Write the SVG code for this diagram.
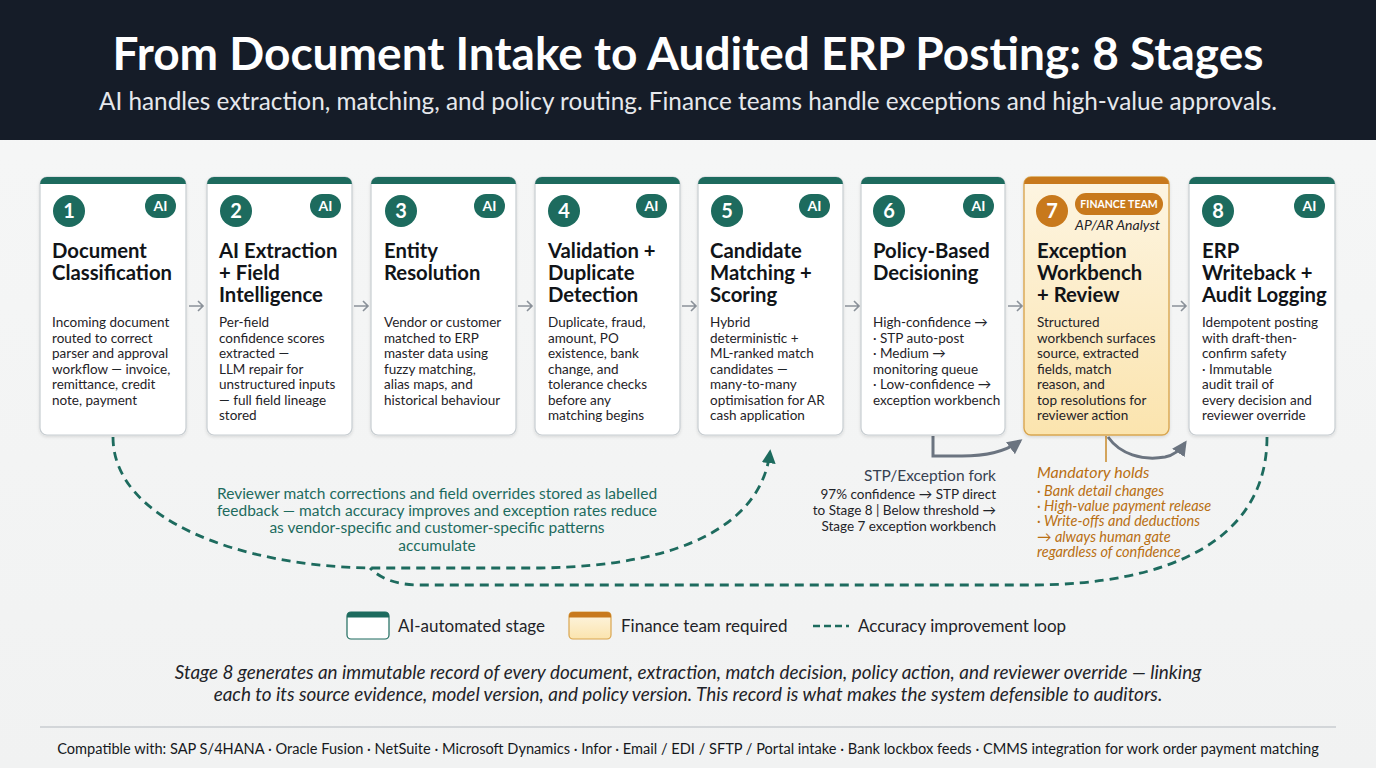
<svg xmlns="http://www.w3.org/2000/svg" width="1376" height="768" viewBox="0 0 1376 768">
<defs>
<style>
.card{fill:#ffffff;stroke:#c7cdd1;stroke-width:1.2}
.cardF{fill:url(#gF);stroke:#d9a650;stroke-width:1.4}
.barT{fill:#1d6b5e}
.barF{fill:#c8791c}
.numc{fill:#1d6b5e}
.numF{fill:#c8791c}
.num{font-family:Lato,"Noto Sans",sans-serif;font-weight:700;font-size:20px;fill:#ffffff;text-anchor:middle}
.ai{font-family:Lato,"Noto Sans",sans-serif;font-weight:700;font-size:14px;fill:#ffffff;text-anchor:middle}
.ttl{font-family:Lato,"Noto Sans",sans-serif;font-weight:700;font-size:20.3px;fill:#111418}
.body{font-family:Lato,"Noto Sans",sans-serif;font-size:13.5px;fill:#1f2328}
.step{fill:none;stroke:#8a9199;stroke-width:1.6}
.loop{fill:none;stroke:#1d6b5e;stroke-width:2.8;stroke-dasharray:9 6}
.gcon{fill:none;stroke:#6b7480;stroke-width:3}
.note{font-family:Lato,"Noto Sans",sans-serif;font-size:15.5px;fill:#1d6b5e;text-anchor:middle}
.fork{font-family:Lato,"Noto Sans",sans-serif;font-size:13.5px;fill:#1f2328;text-anchor:end}
.hold{font-family:Lato,"Noto Sans",sans-serif;font-style:italic;font-size:14.5px;fill:#b96f12}
.leg{font-family:Lato,"Noto Sans",sans-serif;font-size:17px;fill:#1f2328}
</style>
<linearGradient id="gF" x1="0" y1="0" x2="0" y2="1">
<stop offset="0" stop-color="#fdf5e2"/>
<stop offset="1" stop-color="#fbe4ae"/>
</linearGradient>
<linearGradient id="bg" x1="0" y1="0" x2="0" y2="1">
<stop offset="0" stop-color="#f6f7f7"/>
<stop offset="1" stop-color="#f1f2f2"/>
</linearGradient>
<marker id="mT" viewBox="0 0 10 10" refX="8" refY="5" markerWidth="5" markerHeight="5" orient="auto" markerUnits="strokeWidth">
<path d="M0,0 L10,5 L0,10 z" fill="#1d6b5e"/>
</marker>
<marker id="mG" viewBox="0 0 10 10" refX="8" refY="5" markerWidth="5" markerHeight="5" orient="auto" markerUnits="strokeWidth">
<path d="M0,0 L10,5 L0,10 z" fill="#6b7480"/>
</marker>
<filter id="sh" x="-10%" y="-10%" width="120%" height="120%">
<feDropShadow dx="0" dy="1.5" stdDeviation="1.5" flood-color="#000" flood-opacity="0.12"/>
</filter>
</defs>

<rect x="0" y="0" width="1376" height="768" fill="url(#bg)"/>
<g id="header">
<rect x="0" y="0" width="1376" height="140" fill="#151c28"/>
<text x="688" y="70" text-anchor="middle" font-family="Lato,'Noto Sans',sans-serif" font-weight="700" font-size="46" fill="#ffffff">From Document Intake to Audited ERP Posting: 8 Stages</text>
<text x="688" y="110" text-anchor="middle" font-family="Lato,'Noto Sans',sans-serif" font-size="24.3" fill="#e6e8ec">AI handles extraction, matching, and policy routing. Finance teams handle exceptions and high-value approvals.</text>
</g>

<g id="connectors">
<path class="step" d="M189 306 H203 M198 301 L203 306 L198 311"/>
<path class="step" d="M354 306 H368 M363 301 L368 306 L363 311"/>
<path class="step" d="M518 306 H532 M527 301 L532 306 L527 311"/>
<path class="step" d="M682 306 H696 M691 301 L696 306 L691 311"/>
<path class="step" d="M845 306 H859 M854 301 L859 306 L854 311"/>
<path class="step" d="M1008 306 H1022 M1017 301 L1022 306 L1017 311"/>
<path class="step" d="M1172 306 H1186 M1181 301 L1186 306 L1181 311"/>
<path class="gcon" d="M933 436 V456 H962 C990 456 1008 450 1020 441" marker-end="url(#mG)"/>
<path class="gcon" d="M1108 437 C1120 454 1142 461 1165 457 C1175 455 1181 449 1185 443" marker-end="url(#mG)"/>
<line x1="1106" y1="436" x2="1106" y2="462" stroke="#c98a2a" stroke-width="1.5"/>
<path class="loop" d="M113 437 C113 520 240 566 370 568 L540 568 C690 566 762 520 770 452" marker-end="url(#mT)"/>
<path class="loop" d="M1267 437 C1267 540 1170 585 1030 585 L420 585 C395 585 380 578 370 568"/>
</g>

<g id="stage1">
<rect class="card" x="40" y="177" width="146" height="258" rx="7" filter="url(#sh)"/>
<path class="barT" d="M40 184 a7 7 0 0 1 7 -7 h132 a7 7 0 0 1 7 7 v0 z"/>
<circle class="numc" cx="69" cy="211" r="16"/><text class="num" x="69" y="218">1</text>
<rect class="numc" x="145" y="194" width="31" height="24" rx="12"/><text class="ai" x="160.5" y="211">AI</text>
<text class="ttl" x="52" y="258">Document</text><text class="ttl" x="52" y="280">Classification</text>
<text class="body" x="52" y="327">Incoming document</text><text class="body" x="52" y="343">routed to correct</text><text class="body" x="52" y="358">parser and approval</text><text class="body" x="52" y="374">workflow — invoice,</text><text class="body" x="52" y="389">remittance, credit</text><text class="body" x="52" y="405">note, payment</text>
</g>

<g id="stage2">
<rect class="card" x="207" y="177" width="145" height="258" rx="7" filter="url(#sh)"/>
<path class="barT" d="M207 184 a7 7 0 0 1 7 -7 h131 a7 7 0 0 1 7 7 v0 z"/>
<circle class="numc" cx="236" cy="211" r="16"/><text class="num" x="236" y="218">2</text>
<rect class="numc" x="310" y="194" width="31" height="24" rx="12"/><text class="ai" x="325.5" y="211">AI</text>
<text class="ttl" x="219" y="258">AI Extraction</text><text class="ttl" x="219" y="280">+ Field</text><text class="ttl" x="219" y="302">Intelligence</text>
<text class="body" x="219" y="327">Per-field</text><text class="body" x="219" y="343">confidence scores</text><text class="body" x="219" y="358">extracted —</text><text class="body" x="219" y="374">LLM repair for</text><text class="body" x="219" y="389">unstructured inputs</text><text class="body" x="219" y="405">— full field lineage</text><text class="body" x="219" y="420">stored</text>
</g>

<g id="stage3">
<rect class="card" x="371" y="177" width="145" height="258" rx="7" filter="url(#sh)"/>
<path class="barT" d="M371 184 a7 7 0 0 1 7 -7 h131 a7 7 0 0 1 7 7 v0 z"/>
<circle class="numc" cx="401" cy="211" r="16"/><text class="num" x="401" y="218">3</text>
<rect class="numc" x="474" y="194" width="31" height="24" rx="12"/><text class="ai" x="489.5" y="211">AI</text>
<text class="ttl" x="384" y="258">Entity</text><text class="ttl" x="384" y="280">Resolution</text>
<text class="body" x="384" y="327">Vendor or customer</text><text class="body" x="384" y="343">matched to ERP</text><text class="body" x="384" y="358">master data using</text><text class="body" x="384" y="374">fuzzy matching,</text><text class="body" x="384" y="389">alias maps, and</text><text class="body" x="384" y="405">historical behaviour</text>
</g>

<g id="stage4">
<rect class="card" x="535" y="177" width="145" height="258" rx="7" filter="url(#sh)"/>
<path class="barT" d="M535 184 a7 7 0 0 1 7 -7 h131 a7 7 0 0 1 7 7 v0 z"/>
<circle class="numc" cx="564" cy="211" r="16"/><text class="num" x="564" y="218">4</text>
<rect class="numc" x="636" y="194" width="31" height="24" rx="12"/><text class="ai" x="651.5" y="211">AI</text>
<text class="ttl" x="548" y="258">Validation +</text><text class="ttl" x="548" y="280">Duplicate</text><text class="ttl" x="548" y="302">Detection</text>
<text class="body" x="548" y="327">Duplicate, fraud,</text><text class="body" x="548" y="343">amount, PO</text><text class="body" x="548" y="358">existence, bank</text><text class="body" x="548" y="374">change, and</text><text class="body" x="548" y="389">tolerance checks</text><text class="body" x="548" y="405">before any</text><text class="body" x="548" y="420">matching begins</text>
</g>

<g id="stage5">
<rect class="card" x="698" y="177" width="145" height="258" rx="7" filter="url(#sh)"/>
<path class="barT" d="M698 184 a7 7 0 0 1 7 -7 h131 a7 7 0 0 1 7 7 v0 z"/>
<circle class="numc" cx="727" cy="211" r="16"/><text class="num" x="727" y="218">5</text>
<rect class="numc" x="799" y="194" width="31" height="24" rx="12"/><text class="ai" x="814.5" y="211">AI</text>
<text class="ttl" x="710" y="258">Candidate</text><text class="ttl" x="710" y="280">Matching +</text><text class="ttl" x="710" y="302">Scoring</text>
<text class="body" x="710" y="327">Hybrid</text><text class="body" x="710" y="343">deterministic +</text><text class="body" x="710" y="358">ML-ranked match</text><text class="body" x="710" y="374">candidates —</text><text class="body" x="710" y="389">many-to-many</text><text class="body" x="710" y="405">optimisation for AR</text><text class="body" x="710" y="420">cash application</text>
</g>

<g id="stage6">
<rect class="card" x="861" y="177" width="144" height="258" rx="7" filter="url(#sh)"/>
<path class="barT" d="M861 184 a7 7 0 0 1 7 -7 h130 a7 7 0 0 1 7 7 v0 z"/>
<circle class="numc" cx="889" cy="211" r="16"/><text class="num" x="889" y="218">6</text>
<rect class="numc" x="963" y="194" width="31" height="24" rx="12"/><text class="ai" x="978.5" y="211">AI</text>
<text class="ttl" x="873" y="258">Policy-Based</text><text class="ttl" x="873" y="280">Decisioning</text>
<text class="body" x="873" y="327">High-confidence →</text><text class="body" x="873" y="343">· STP auto-post</text><text class="body" x="873" y="358">· Medium →</text><text class="body" x="873" y="374">monitoring queue</text><text class="body" x="873" y="389">· Low-confidence →</text><text class="body" x="873" y="405">exception workbench</text>
</g>

<g id="stage7">
<rect class="cardF" x="1024" y="177" width="145" height="258" rx="7" filter="url(#sh)"/>
<path class="barF" d="M1024 184 a7 7 0 0 1 7 -7 h131 a7 7 0 0 1 7 7 v0 z"/>
<circle class="numF" cx="1052" cy="211" r="16"/><text class="num" x="1052" y="218">7</text>
<rect class="numF" x="1075" y="193" width="88" height="22" rx="11"/><text x="1119" y="208" text-anchor="middle" font-family="Lato,'Noto Sans',sans-serif" font-weight="700" font-size="10.5" fill="#ffffff">FINANCE TEAM</text>
<text x="1160" y="230" text-anchor="end" font-family="Lato,'Noto Sans',sans-serif" font-style="italic" font-size="14" fill="#1f2328">AP/AR Analyst</text>
<text class="ttl" x="1037" y="258">Exception</text><text class="ttl" x="1037" y="280">Workbench</text><text class="ttl" x="1037" y="302">+ Review</text>
<text class="body" x="1037" y="327">Structured</text><text class="body" x="1037" y="343">workbench surfaces</text><text class="body" x="1037" y="358">source, extracted</text><text class="body" x="1037" y="374">fields, match</text><text class="body" x="1037" y="389">reason, and</text><text class="body" x="1037" y="405">top resolutions for</text><text class="body" x="1037" y="420">reviewer action</text>
</g>

<g id="stage8">
<rect class="card" x="1189" y="177" width="146" height="258" rx="7" filter="url(#sh)"/>
<path class="barT" d="M1189 184 a7 7 0 0 1 7 -7 h132 a7 7 0 0 1 7 7 v0 z"/>
<circle class="numc" cx="1218" cy="211" r="16"/><text class="num" x="1218" y="218">8</text>
<rect class="numc" x="1294" y="194" width="31" height="24" rx="12"/><text class="ai" x="1309.5" y="211">AI</text>
<text class="ttl" x="1202" y="258">ERP</text><text class="ttl" x="1202" y="280">Writeback +</text><text class="ttl" x="1202" y="302">Audit Logging</text>
<text class="body" x="1202" y="327">Idempotent posting</text><text class="body" x="1202" y="343">with draft-then-</text><text class="body" x="1202" y="358">confirm safety</text><text class="body" x="1202" y="374">· Immutable</text><text class="body" x="1202" y="389">audit trail of</text><text class="body" x="1202" y="405">every decision and</text><text class="body" x="1202" y="420">reviewer override</text>
</g>

<g id="loop-note">
<text class="note" x="437" y="499">Reviewer match corrections and field overrides stored as labelled</text>
<text class="note" x="437" y="516">feedback — match accuracy improves and exception rates reduce</text>
<text class="note" x="437" y="533">as vendor-specific and customer-specific patterns</text>
<text class="note" x="437" y="551">accumulate</text>
</g>

<g id="fork-note">
<text x="996" y="481" text-anchor="end" font-family="Lato,'Noto Sans',sans-serif" font-size="15.5" fill="#374151">STP/Exception fork</text>
<text class="fork" x="996" y="499">97% confidence → STP direct</text>
<text class="fork" x="996" y="515">to Stage 8 | Below threshold →</text>
<text class="fork" x="996" y="531">Stage 7 exception workbench</text>
</g>

<g id="holds-note">
<text x="1037" y="478" font-family="Lato,'Noto Sans',sans-serif" font-style="italic" font-size="16" fill="#b96f12">Mandatory holds</text>
<text class="hold" x="1037" y="496">· Bank detail changes</text>
<text class="hold" x="1037" y="511">· High-value payment release</text>
<text class="hold" x="1037" y="526">· Write-offs and deductions</text>
<text class="hold" x="1037" y="542">→ always human gate</text>
<text class="hold" x="1037" y="557">regardless of confidence</text>
</g>

<g id="legend">
<rect x="347" y="612" width="42" height="27" rx="4" fill="#ffffff" stroke="#1d6b5e" stroke-width="1.2"/>
<path d="M347 616 a4 4 0 0 1 4 -4 h34 a4 4 0 0 1 4 4 v1.5 h-42 z" fill="#1d6b5e"/>
<text class="leg" x="398" y="632">AI-automated stage</text>
<rect x="569" y="612" width="42" height="27" rx="4" fill="url(#gF)" stroke="#d9a650" stroke-width="1.2"/>
<path d="M569 616 a4 4 0 0 1 4 -4 h34 a4 4 0 0 1 4 4 v1.5 h-42 z" fill="#c8791c"/>
<text class="leg" x="621" y="632">Finance team required</text>
<line x1="813" y1="626" x2="849" y2="626" stroke="#1d6b5e" stroke-width="2.5" stroke-dasharray="7 4"/>
<text class="leg" x="858" y="632">Accuracy improvement loop</text>
</g>

<g id="summary">
<text x="688" y="679" text-anchor="middle" font-family="Lato,'Noto Sans',sans-serif" font-style="italic" font-size="18.9" fill="#1f2328">Stage 8 generates an immutable record of every document, extraction, match decision, policy action, and reviewer override — linking</text>
<text x="688" y="701" text-anchor="middle" font-family="Lato,'Noto Sans',sans-serif" font-style="italic" font-size="18.9" fill="#1f2328">each to its source evidence, model version, and policy version. This record is what makes the system defensible to auditors.</text>
</g>

<g id="footer">
<line x1="40" y1="727" x2="1336" y2="727" stroke="#c9cdd1" stroke-width="1.5"/>
<text x="688" y="754" text-anchor="middle" font-family="Lato,'Noto Sans',sans-serif" font-size="14.6" fill="#16191d">Compatible with: SAP S/4HANA · Oracle Fusion · NetSuite · Microsoft Dynamics · Infor · Email / EDI / SFTP / Portal intake · Bank lockbox feeds · CMMS integration for work order payment matching</text>
</g>
</svg>
